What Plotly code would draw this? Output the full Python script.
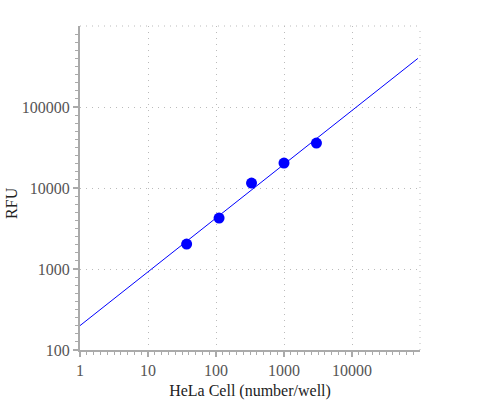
import plotly.graph_objects as go

cells = [37, 111, 333, 1000, 3000]
rfu = [2030, 4260, 11500, 20300, 35900]
fit_x = [1, 93000]
fit_y = [200, 398000]

x_ticks = [1, 10, 100, 1000, 10000]
y_ticks = [100, 1000, 10000, 100000]

font_family = "Liberation Serif"

minor_x = [10 ** (k / 10) for k in range(0, 51) if k % 10]
minor_y = [10 ** (2 + k / 10) for k in range(0, 41) if k % 10]

fig = go.Figure()
fig.add_trace(go.Scatter(x=fit_x, y=fit_y, mode="lines",
                         line=dict(color="#0000ff", width=1), showlegend=False))
fig.add_trace(go.Scatter(x=cells, y=rfu, mode="markers",
                         marker=dict(color="#0000ff", size=11), showlegend=False))

axis_common = dict(
    type="log", showline=True, linecolor="#aaaaaa", linewidth=2,
    ticks="outside", ticklen=5, tickcolor="#aaaaaa", tickwidth=2,
    showgrid=True, gridcolor="#bbbbbb", griddash="1px,5px", gridwidth=1,
    zeroline=False, automargin=False,
    tickfont=dict(family=font_family, size=16, color="#555555"),
)

fig.update_xaxes(range=[0, 5], tickvals=x_ticks, ticktext=[str(v) for v in x_ticks],
                 title=dict(text="HeLa Cell (number/well)",
                            font=dict(family=font_family, size=16, color="#222222"),
                            standoff=8),
                 minor=dict(tickvals=minor_x, ticks="outside", ticklen=3,
                            tickcolor="#aaaaaa", tickwidth=1, showgrid=False),
                 **axis_common)
fig.update_yaxes(range=[2, 6], tickvals=y_ticks, ticktext=[str(v) for v in y_ticks],
                 minor=dict(tickvals=minor_y, ticks="outside", ticklen=3,
                            tickcolor="#aaaaaa", tickwidth=1, showgrid=False),
                 **axis_common)

fig.add_annotation(text="RFU", xref="paper", yref="paper", x=-0.2, y=0.454,
                   xanchor="center", yanchor="middle", textangle=-90, showarrow=False,
                   font=dict(family=font_family, size=16, color="#222222"))

# dotted top and right borders
fig.add_shape(type="line", xref="paper", yref="paper", x0=0, x1=1, y0=1, y1=1,
              line=dict(color="#bbbbbb", width=1, dash="1px,5px"))
fig.add_shape(type="line", xref="paper", yref="paper", x0=1, x1=1, y0=0, y1=1,
              line=dict(color="#bbbbbb", width=1, dash="1px,5px"))

fig.update_layout(
    width=500, height=400,
    margin=dict(l=80, r=80, t=26, b=50),
    plot_bgcolor="white", paper_bgcolor="white",
    font=dict(family=font_family),
)

fig.write_html("out.html")
